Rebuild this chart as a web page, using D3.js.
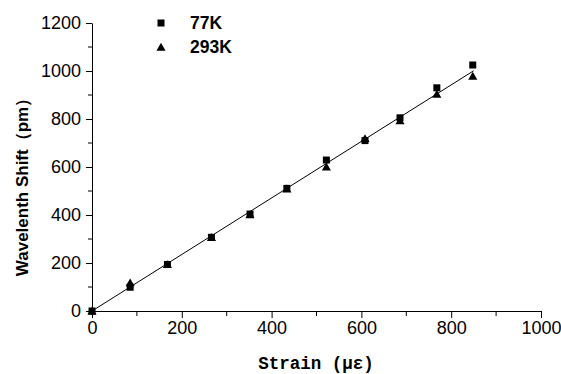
<!DOCTYPE html>
<html><head><meta charset="utf-8">
<script src="https://cdn.jsdelivr.net/npm/d3@7"></script>
<style>body{margin:0;background:#fff}svg{display:block}</style>
</head><body>
<script>
const strain77 = [0, 85, 168, 266, 352, 434, 522, 608, 686, 768, 848];
const shift77  = [0, 99, 194, 307, 404, 511, 629, 710, 805, 930, 1025];
const strain293 = [0, 85, 168, 266, 352, 434, 522, 608, 686, 768, 848];
const shift293  = [0, 118, 194, 307, 402, 509, 601, 719, 793, 904, 979];
const fitX = [0, 850];
const fitY = [0, 1001];
const xTicks = [0, 200, 400, 600, 800, 1000];
const yTicks = [0, 200, 400, 600, 800, 1000, 1200];
const legendLabels = ["77K", "293K"];

const W = 561, H = 374;
const svg = d3.select("body").append("svg").attr("width", W).attr("height", H);
const x = d3.scaleLinear().domain([0, 1000]).range([92, 541]);
const y = d3.scaleLinear().domain([0, 1200]).range([311, 23]);
const fmt = d3.format("d");

// axes
const xAxis = d3.axisBottom(x).tickValues(xTicks).tickFormat(fmt).tickSize(7).tickPadding(3).tickSizeOuter(0);
const yAxis = d3.axisLeft(y).tickValues(yTicks).tickFormat(fmt).tickSize(6).tickPadding(5).tickSizeOuter(0);
const gx = svg.append("g").attr("transform", "translate(0,311)").call(xAxis);
const gy = svg.append("g").attr("transform", "translate(92,0)").call(yAxis);
// minor ticks
const xMinor = d3.range(100, 1000, 200);
const yMinor = d3.range(100, 1200, 200);
svg.append("g").selectAll("line").data(xMinor).join("line")
  .attr("x1", d => x(d)).attr("x2", d => x(d)).attr("y1", 311).attr("y2", 316)
  .attr("stroke", "#000");
svg.append("g").selectAll("line").data(yMinor).join("line")
  .attr("x1", 88).attr("x2", 92).attr("y1", d => y(d)).attr("y2", d => y(d))
  .attr("stroke", "#000");
[gx, gy].forEach(g => {
  g.selectAll("text").attr("font-family", "Liberation Sans, Arial, sans-serif").attr("font-size", 18).attr("fill", "#000");
  g.selectAll("path,line").attr("stroke", "#000").attr("stroke-width", 1);
});

// fit line
svg.append("line").attr("x1", x(fitX[0])).attr("y1", y(fitY[0])).attr("x2", x(fitX[1])).attr("y2", y(fitY[1]))
  .attr("stroke", "#000").attr("stroke-width", 1);

// markers
const sq = 7;
svg.append("g").selectAll("rect").data(strain77.map((s, i) => [s, shift77[i]])).join("rect")
  .attr("x", d => x(d[0]) - sq / 2).attr("y", d => y(d[1]) - sq / 2)
  .attr("width", sq).attr("height", sq).attr("fill", "#000");
const tri = d3.symbol().type(d3.symbolTriangle).size(36);
svg.append("g").selectAll("path").data(strain293.map((s, i) => [s, shift293[i]])).join("path")
  .attr("d", tri).attr("transform", d => `translate(${x(d[0])},${y(d[1]) + 1})`).attr("fill", "#000");

// legend
svg.append("rect").attr("x", 161 - sq / 2).attr("y", 23 - sq / 2).attr("width", sq).attr("height", sq).attr("fill", "#000");
svg.append("path").attr("d", tri).attr("transform", "translate(161,48)").attr("fill", "#000");
svg.selectAll(".lg").data(legendLabels).join("text").attr("class", "lg")
  .attr("x", 190).attr("y", (d, i) => 29 + i * 24)
  .attr("font-family", "Liberation Sans, Arial, sans-serif").attr("font-weight", "bold").attr("font-size", 17.5)
  .text(d => d);

// axis titles
svg.append("text").attr("x", 316).attr("y", 369).attr("text-anchor", "middle")
  .attr("font-family", "Liberation Mono, monospace").attr("font-weight", "bold").attr("font-size", 17.5)
  .text("Strain (με)");
svg.append("text").attr("transform", "translate(28,183) rotate(-90)").attr("text-anchor", "middle")
  .attr("font-family", "Liberation Sans, Arial, sans-serif").attr("font-weight", "bold").attr("font-size", 17)
  .text("Wavelenth Shift（pm）");
</script>
</body></html>
